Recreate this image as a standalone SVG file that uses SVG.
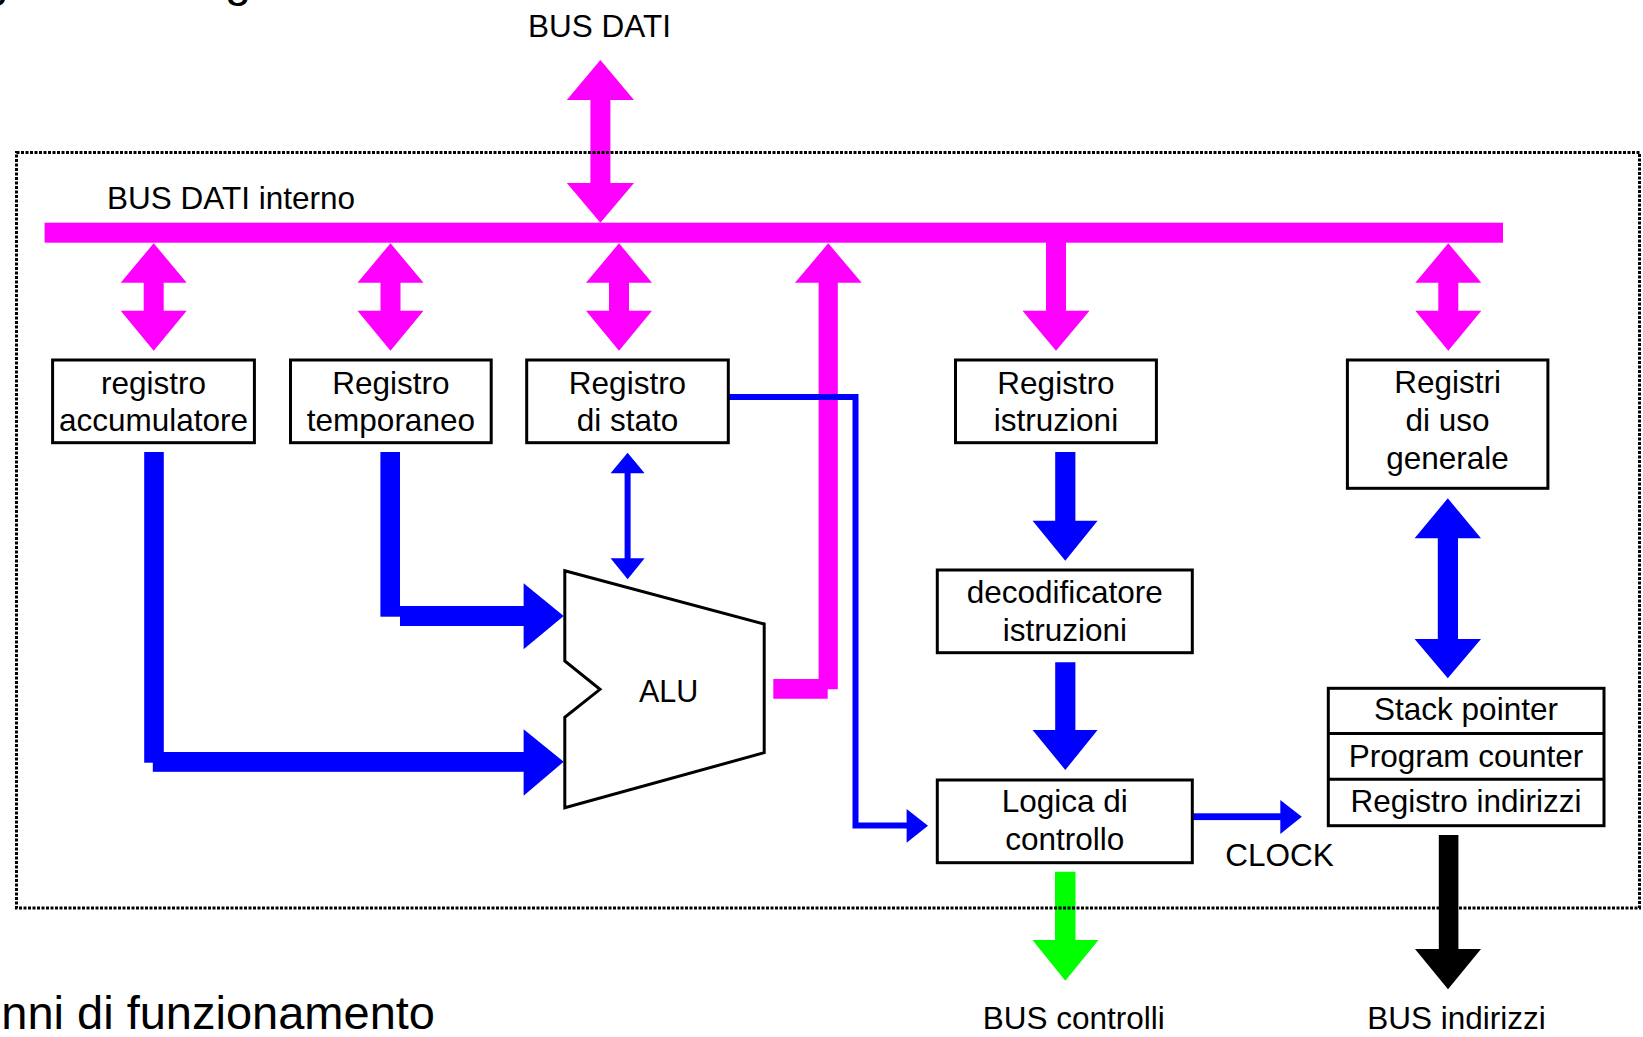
<svg xmlns="http://www.w3.org/2000/svg" width="1643" height="1037" viewBox="0 0 1643 1037">
<style>
text{font-family:"Liberation Sans",Arial,Helvetica,sans-serif;fill:#000;}
.lbl{font-size:31.5px;text-anchor:middle;}
.box{fill:#fff;stroke:#000;stroke-width:3;}
.mag{fill:#ff00ff;}
.blu{fill:#0000ff;}
.grn{fill:#00ff00;}
.blk{fill:#000;}
.thin{fill:none;stroke:#0000ff;stroke-width:6;}
.frame{fill:none;stroke:#000;stroke-width:3;stroke-dasharray:3 1.5;}
</style>
<defs>
<path id="dblM" d="M0,243.3 L33,282.7 L10,282.7 L10,310.7 L33,310.7 L0,350.7 L-33,310.7 L-10,310.7 L-10,282.7 L-33,282.7 Z"/>
</defs>
<rect width="1643" height="1037" fill="#fff"/>

<!-- cut-off title / caption fragments -->
<text x="-17.5" y="-4" font-size="47">g</text>
<text x="225" y="-4" font-size="47">g</text>
<text x="435" y="1028.5" font-size="47" text-anchor="end">nni di funzionamento</text>

<g id="connectors">
  <!-- internal data bus -->
  <rect class="mag" x="44.6" y="222.7" width="1458.4" height="20"/>
  <!-- BUS DATI external double arrow -->
  <path class="mag" d="M600.4,60 L634,100 L610.4,100 L610.4,183 L634,183 L600.4,222.7 L566.8,183 L590.4,183 L590.4,100 L566.8,100 Z"/>
  <!-- bus <-> registers -->
  <use href="#dblM" class="mag" transform="translate(153.7,0)"/>
  <use href="#dblM" class="mag" transform="translate(390.5,0)"/>
  <use href="#dblM" class="mag" transform="translate(619,0)"/>
  <use href="#dblM" class="mag" transform="translate(1448.3,0)"/>
  <!-- bus -> registro istruzioni -->
  <path class="mag" d="M1046,242 L1066,242 L1066,310.7 L1089.5,310.7 L1056,350.7 L1022.5,310.7 L1046,310.7 Z"/>
  <!-- ALU -> bus -->
  <path class="mag" d="M828.3,243.3 L861.7,282.7 L837.8,282.7 L837.8,689.3 L827.7,689.3 L827.7,698.7 L773.3,698.7 L773.3,679 L818.6,679 L818.6,282.7 L795,282.7 Z"/>

  <!-- accumulatore -> ALU -->
  <rect class="blu" x="144.2" y="452" width="19.6" height="310.7"/>
  <rect class="blu" x="152.8" y="752" width="372" height="19.8"/>
  <path class="blu" d="M523.6,729.3 L563.7,761.7 L523.6,795.7 Z"/>
  <!-- temporaneo -> ALU -->
  <rect class="blu" x="380.4" y="452" width="19.6" height="164.7"/>
  <rect class="blu" x="400" y="606" width="124.6" height="20"/>
  <path class="blu" d="M523.6,583.3 L563.7,616 L523.6,649.3 Z"/>
  <!-- stato <-> ALU -->
  <path class="blu" d="M627.6,452.7 L644.6,473.3 L630.6,473.3 L630.6,558.3 L644.6,558.3 L627.6,579.3 L610.6,558.3 L624.6,558.3 L624.6,473.3 L610.6,473.3 Z"/>
  <!-- stato -> logica di controllo -->
  <polyline class="thin" points="728,397 855.5,397 855.5,825.5 907,825.5"/>
  <path class="blu" d="M906.6,809 L928,825.7 L906.6,842.7 Z"/>
  <!-- registro istruzioni -> decodificatore -->
  <path class="blu" d="M1055.2,452 L1075.4,452 L1075.4,520.7 L1097.6,520.7 L1065.3,560.7 L1032.6,520.7 L1055.2,520.7 Z"/>
  <!-- decodificatore -> logica -->
  <path class="blu" d="M1055.2,662.3 L1075.4,662.3 L1075.4,730 L1097.6,730 L1065.3,770 L1032.6,730 L1055.2,730 Z"/>
  <!-- CLOCK -->
  <rect class="blu" x="1193.3" y="813.3" width="88" height="6.8"/>
  <path class="blu" d="M1280.3,800 L1301.8,816.7 L1280.3,834 Z"/>
  <!-- registri uso generale <-> stack block -->
  <path class="blu" d="M1447.8,498.3 L1481,538.3 L1458,538.3 L1458,639 L1481,639 L1447.8,678.3 L1414.6,639 L1437.8,639 L1437.8,538.3 L1414.6,538.3 Z"/>
  <!-- BUS controlli -->
  <path class="grn" d="M1055,871.7 L1075.5,871.7 L1075.5,940 L1098.5,940 L1065.3,980.7 L1032.5,940 L1055,940 Z"/>
  <!-- BUS indirizzi -->
  <path class="blk" d="M1438.8,835 L1458.4,835 L1458.4,949 L1481,949 L1448,989.3 L1415,949 L1438.8,949 Z"/>
</g>

<g id="acc">
  <rect class="box" x="52.6" y="360" width="201.8" height="82.7"/>
  <text class="lbl" x="153.5" y="393.5">registro</text>
  <text class="lbl" x="153.5" y="430.8">accumulatore</text>
</g>
<g id="temp">
  <rect class="box" x="290.5" y="360" width="200.7" height="82.7"/>
  <text class="lbl" x="390.9" y="393.5">Registro</text>
  <text class="lbl" x="390.9" y="430.8">temporaneo</text>
</g>
<g id="stato">
  <rect class="box" x="526.7" y="360" width="201.6" height="82.7"/>
  <text class="lbl" x="627.5" y="393.5">Registro</text>
  <text class="lbl" x="627.5" y="430.8">di stato</text>
</g>
<g id="istr">
  <rect class="box" x="955.5" y="360" width="200.9" height="82.7"/>
  <text class="lbl" x="1056" y="393.5">Registro</text>
  <text class="lbl" x="1056" y="430.8">istruzioni</text>
</g>
<g id="gen">
  <rect class="box" x="1347.4" y="360" width="200.5" height="128.3"/>
  <text class="lbl" x="1447.6" y="393">Registri</text>
  <text class="lbl" x="1447.6" y="430.8">di uso</text>
  <text class="lbl" x="1447.6" y="468.5">generale</text>
</g>
<g id="alu">
  <path d="M564.8,570.7 L764.2,624 L764.2,752.7 L564.8,807.7 L564.8,717.3 L600,689.3 L564.8,661 Z" fill="#fff" stroke="#000" stroke-width="3" stroke-linejoin="miter"/>
  <text x="668.6" y="701.7" font-size="30.5" text-anchor="middle">ALU</text>
</g>
<g id="decod">
  <rect class="box" x="937.3" y="570" width="255" height="82.7"/>
  <text class="lbl" x="1064.8" y="602.8">decodificatore</text>
  <text class="lbl" x="1064.8" y="640.5">istruzioni</text>
</g>
<g id="logica">
  <rect class="box" x="937.3" y="780" width="255" height="82.7"/>
  <text class="lbl" x="1064.8" y="812">Logica di</text>
  <text class="lbl" x="1064.8" y="850">controllo</text>
</g>
<g id="stack">
  <rect class="box" x="1328.3" y="688.3" width="275.7" height="137.4"/>
  <line x1="1328.3" y1="733.5" x2="1604" y2="733.5" stroke="#000" stroke-width="3"/>
  <line x1="1328.3" y1="779.3" x2="1604" y2="779.3" stroke="#000" stroke-width="3"/>
  <text class="lbl" x="1466" y="720">Stack pointer</text>
  <text class="lbl" x="1466" y="766.5">Program counter</text>
  <text class="lbl" x="1466" y="812">Registro indirizzi</text>
</g>

<g id="labels">
  <text class="lbl" x="599.5" y="37">BUS DATI</text>
  <text class="lbl" x="231" y="209">BUS DATI interno</text>
  <text class="lbl" x="1279.5" y="866">CLOCK</text>
  <text class="lbl" x="1073.8" y="1029">BUS controlli</text>
  <text class="lbl" x="1456.5" y="1029">BUS indirizzi</text>
</g>

<rect id="cpu-frame" class="frame" x="16.5" y="152.5" width="1623" height="755.5"/>
</svg>
